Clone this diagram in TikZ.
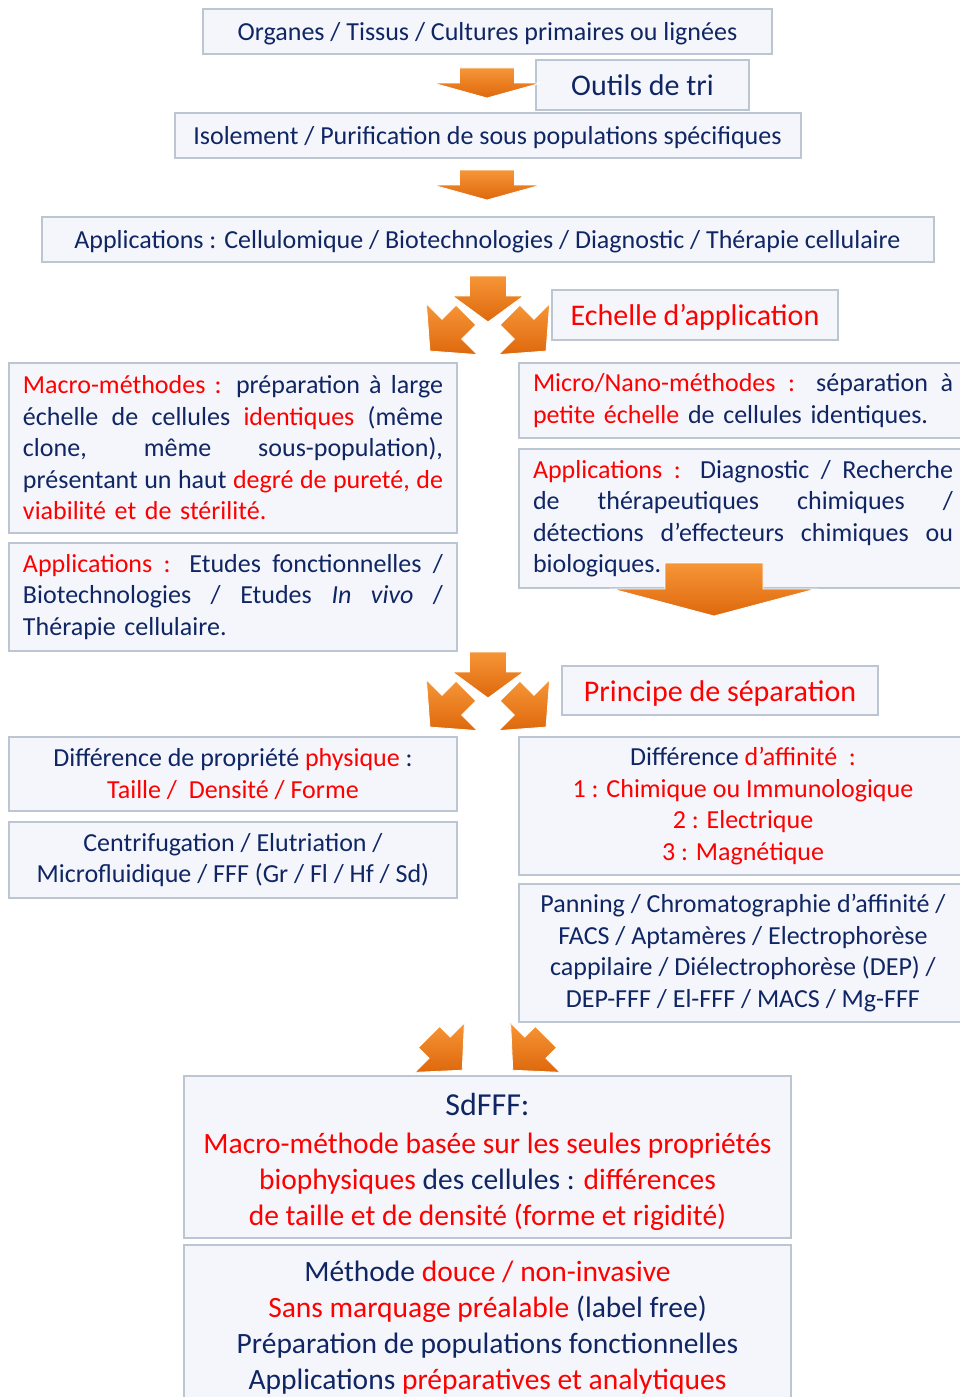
\documentclass[tikz,border=0pt]{standalone}
\usepackage{fontspec}
\setmainfont{Carlito}
\usetikzlibrary{positioning}

\definecolor{navy}{RGB}{16,38,100}
\definecolor{rouge}{RGB}{255,0,0}
\definecolor{boxfill}{RGB}{244,246,251}
\definecolor{boxline}{RGB}{188,198,210}
\definecolor{orangeclair}{RGB}{246,150,55}
\definecolor{orangefonce}{RGB}{222,104,12}

\newcommand{\rg}[1]{\textcolor{rouge}{#1}}
\newcommand{\jl}[1]{{\spaceskip=0pt\xspaceskip=0pt\makebox[420pt][s]{#1}}\\}

\begin{document}
\begin{tikzpicture} [
						x=1pt, y=-1pt,
						node distance=10pt,
						boite/.style={draw=boxline, fill=boxfill, line width=2pt, text=navy,
							inner sep=0pt, outer sep=0pt, font=\fontsize{26}{31.5}\selectfont},
						ligne/.style={boite, text height=21.5pt, text depth=3pt},
						titre/.style={boite, font=\fontsize{30}{36}\selectfont},
						texte/.style={boite, text width=420pt, align=left},
						centre/.style={boite, align=center},
						grand/.style={boite, align=center, font=\fontsize{29.5}{36}\selectfont},
						flechestyle/.style={top color=orangeclair, bottom color=orangefonce,
							draw=white, line width=0.8pt},
						pics/fleche/.style n args={4}{code={
							\path[flechestyle] (-#1,0) -- (-#1,#2) -- (-#3,#2) -- (0,#2+#4)
								-- (#3,#2) -- (#1,#2) -- (#1,0) -- cycle;
						}}
					]

\useasboundingbox (0,0) rectangle (960,1397);

% haut
\node (organes) [ligne, anchor=north west, minimum width=569pt, minimum height=45pt] at (203,9)
	{Organes / Tissus / Cultures primaires ou lignées};
\node (isol) [ligne, below=59pt of organes, minimum width=626pt, minimum height=45pt]
	{Isolement / Purification de sous populations spécifiques};
\node (applis) [ligne, below=59pt of isol, minimum width=892pt, minimum height=45pt]
	{Applications : Cellulomique / Biotechnologies / Diagnostic / Thérapie cellulaire};
\node (outils) [titre, anchor=north west, minimum width=213pt, minimum height=50pt] at (536,60)
	{Outils de tri};

\pic at (487,68) {fleche={27.5}{15}{54}{15}};
\pic at (487,170) {fleche={27.5}{15}{54}{15}};

% echelle
\node (echelle) [titre, text=rouge, text height=23pt, text depth=2pt, anchor=north west,
	minimum width=286pt, minimum height=50pt] at (552,290)
	{Echelle d’application};

\node (macro) [texte, anchor=north west, minimum width=448pt, minimum height=170pt] at (9,363) {%
	\jl{\rg{Macro-méthodes :} préparation à large}
	\jl{échelle de cellules \rg{identiques} (même}
	\jl{clone, même sous-population),}
	\jl{présentant un haut \rg{degré de pureté, de}}
	\rg{viabilité et de stérilité.}};
\node (applig) [texte, below=10pt of macro, minimum width=448pt, minimum height=108pt] {%
	\jl{\rg{Applications :} Etudes fonctionnelles /}
	\jl{Biotechnologies / Etudes \textit{In vivo} /}
	Thérapie cellulaire.};

\node (micro) [texte, anchor=north west, minimum width=448pt, minimum height=75pt] at (519,363) {%
	\jl{\rg{Micro/Nano-méthodes :} séparation à}
	\rg{petite échelle} de cellules identiques.};
\node (applid) [texte, below=11pt of micro, minimum width=448pt, minimum height=139pt] {%
	\jl{\rg{Applications :} Diagnostic / Recherche}
	\jl{de thérapeutiques chimiques /}
	\jl{détections d’effecteurs chimiques ou}
	biologiques.};

\pic at (714,563) {fleche={49}{26}{101.5}{27}};

% principe
\node (principe) [titre, text=rouge, text height=23pt, text depth=2pt, anchor=north west,
	minimum width=316pt, minimum height=49pt] at (562,666)
	{Principe de séparation};

\node (physique) [centre, anchor=north west, minimum width=448pt, minimum height=74pt] at (9,737)
	{Différence de propriété \rg{physique} :\\ \rg{Taille / \ Densité / Forme}};
\node (centrif) [centre, below=11pt of physique, minimum width=448pt, minimum height=76pt]
	{Centrifugation / Elutriation /\\ Microfluidique / FFF (Gr / Fl / Hf / Sd)};

\node (affinite) [centre, anchor=north west, minimum width=448pt, minimum height=138pt] at (519,737)
	{Différence \rg{d’affinité \ :}\\ \rg{1 : Chimique ou Immunologique}\\ \rg{2 : Electrique}\\ \rg{3 : Magnétique}};
\node (panning) [centre, below=9pt of affinite, minimum width=448pt, minimum height=138pt]
	{Panning / Chromatographie d’affinité /\\ FACS / Aptamères / Electrophorèse\\
	 cappilaire / Diélectrophorèse (DEP) /\\ DEP-FFF / El-FFF / MACS / Mg-FFF};

% fleches triples
\foreach \dy in {0,376} {
	\pic[rotate=-45] at (466,315+\dy) {fleche={14}{20}{36}{31}};
	\pic[rotate=45] at (510,315+\dy) {fleche={14}{20}{36}{31}};
	\pic at (488,276+\dy) {fleche={18.5}{20}{35.5}{26}};
}

\pic[rotate=45] at (429,1037) {fleche={15}{15}{35}{32}};
\pic[rotate=-45] at (546,1037) {fleche={15}{15}{35}{32}};

% SdFFF
\node (sdfff) [grand, anchor=north west, minimum width=607pt, minimum height=162pt] at (184,1076)
	{\rule{0pt}{32pt}{\fontsize{32}{38}\selectfont SdFFF:}\\[2pt]
	 \rg{Macro-méthode basée sur les seules propriétés}\\
	 \rg{biophysiques} des cellules : \rg{différences}\\
	 \rg{de taille et de densité (forme et rigidité)}};
\node (douce) [grand, below=7pt of sdfff, minimum width=607pt, minimum height=165pt]
	{Méthode \rg{douce / non-invasive}\\
	 \rg{Sans marquage préalable} (label free)\\
	 Préparation de populations fonctionnelles\\
	 Applications \rg{préparatives et analytiques}};

\end{tikzpicture}
\end{document}
